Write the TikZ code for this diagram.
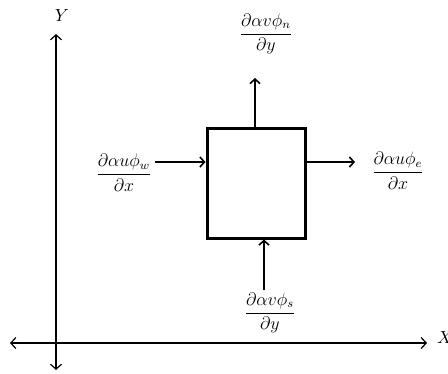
\documentclass[tikz,border=0pt]{standalone}
\usetikzlibrary{arrows.meta}
\newcommand{\fluxlab}[1]{\scalebox{1.5}{$\displaystyle #1$}}
\newcommand{\axlabel}[1]{\scalebox{1.75}{$#1$}}
\tikzset{
  arr/.style={line width=1.8pt,-{Straight Barb[length=4.5pt,width=10pt,line width=1.6pt]}},
  axis/.style={line width=1.3pt,{Straight Barb[length=5pt,width=11pt,line width=1.2pt]}-{Straight Barb[length=5pt,width=11pt,line width=1.2pt]}},
  lab/.style={inner sep=0pt,font=\fontsize{12}{14}\selectfont},
  axlab/.style={inner sep=0pt},
  cvbox/.style={draw,line width=3pt,inner sep=0pt,minimum width=98pt,minimum height=110pt}
}
\begin{document}
\begin{tikzpicture}[x=1pt,y=-1pt]
\useasboundingbox (0,0) rectangle (448,373);
% axes
\coordinate (ytop) at (56,34);
\coordinate (ybot) at (56,370);
\coordinate (xl) at (10,343);
\coordinate (xr) at (427,343);
\draw[axis] (ybot) -- (ytop);
\draw[axis] (xl) -- (xr);
\node[axlab] (ylab) at (62,16) {\axlabel{Y}};
\node[axlab,anchor=west] (xlab) at (437,338) {\axlabel{X}};
% control volume
\node[cvbox] (cv) at (256,183) {};
% labels
\node[lab] (nlab) at (266,34) {\fluxlab{\frac{\partial \alpha v\phi_n}{\partial y}}};
\node[lab] (wlab) at (124,173) {\fluxlab{\frac{\partial \alpha u\phi_w}{\partial x}}};
\node[lab] (elab) at (398,171) {\fluxlab{\frac{\partial \alpha u\phi_e}{\partial x}}};
\node[lab] (slab) at (270,313) {\fluxlab{\frac{\partial \alpha v\phi_s}{\partial y}}};
% flux arrows
\coordinate (ntip) at (255,78);
\coordinate (wst) at (155,162);
\coordinate (etip) at (355,162);
\coordinate (sst) at (264,290);
\draw[arr] (cv.north -| ntip) -- (ntip);
\draw[arr] (wst) -- (cv.west |- wst);
\draw[arr] (cv.east |- etip) -- (etip);
\draw[arr] (sst) -- (cv.south -| sst);
\end{tikzpicture}
\end{document}
